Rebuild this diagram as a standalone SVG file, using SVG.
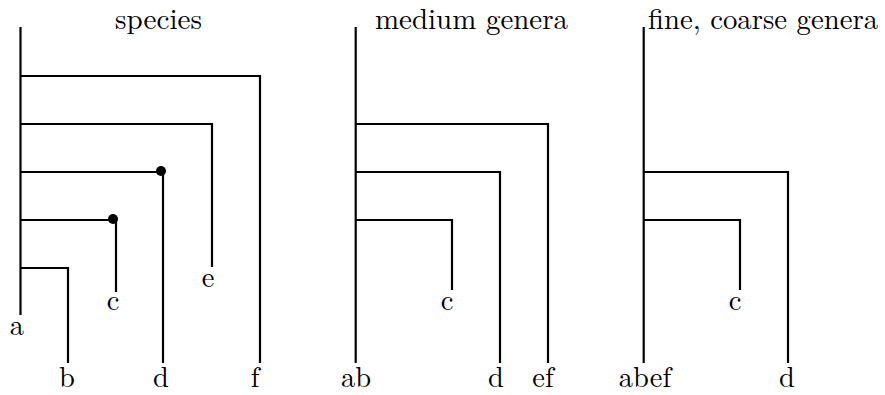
<svg xmlns="http://www.w3.org/2000/svg" width="885" height="395" viewBox="0 0 885 395">
<style>
.ln{stroke:#000;stroke-width:2.2;fill:none;stroke-linecap:butt}
.m{text-anchor:middle}
</style>
<rect width="885" height="395" fill="#fff"/>
<g font-family="Latin Modern Roman, CMU Serif" font-size="28.5" fill="#000">
<g id="titles">
<text class="m" x="158.5" y="28.5" textLength="87" lengthAdjust="spacingAndGlyphs">species</text>
<text x="375" y="28.5" textLength="193" lengthAdjust="spacingAndGlyphs">medium genera</text>
<text x="648" y="28.5" textLength="230" lengthAdjust="spacingAndGlyphs">fine, coarse genera</text>
</g>
<g id="species-leaves">
<g id="n-a"><text class="m" x="17" y="335">a</text></g>
<g id="n-b"><text class="m" x="67" y="387">b</text></g>
<g id="n-c"><text class="m" x="113" y="310">c</text></g>
<g id="n-d"><text class="m" x="161" y="387">d</text></g>
<g id="n-e"><text class="m" x="208" y="287">e</text></g>
<g id="n-f"><text class="m" x="255" y="387">f</text></g>
</g>
<g id="medium-leaves">
<g id="m-ab"><text class="m" x="356" y="387">ab</text></g>
<g id="m-c"><text class="m" x="447" y="310">c</text></g>
<g id="m-d"><text class="m" x="496" y="387">d</text></g>
<g id="m-ef"><text class="m" x="543" y="387">ef</text></g>
</g>
<g id="coarse-leaves">
<g id="f-abef"><text class="m" x="645" y="387">abef</text></g>
<g id="f-c"><text class="m" x="735" y="310">c</text></g>
<g id="f-d"><text class="m" x="787" y="387">d</text></g>
</g>
</g>
<g id="connectors">
<path class="ln" d="M20.5 27V315M20.5 76H260V363M20.5 124H212V267M20.5 172H163V363M20.5 220H116V292M20.5 268H68V363"/>
<path class="ln" d="M355.7 27V363M355.7 124H548V363M355.7 172H500V363M355.7 220H452V290"/>
<path class="ln" d="M643.7 27V363M643.7 172H788V363M643.7 220H740V290"/>
<circle cx="161" cy="171" r="5"/>
<circle cx="113" cy="219" r="5"/>
</g>
</svg>
